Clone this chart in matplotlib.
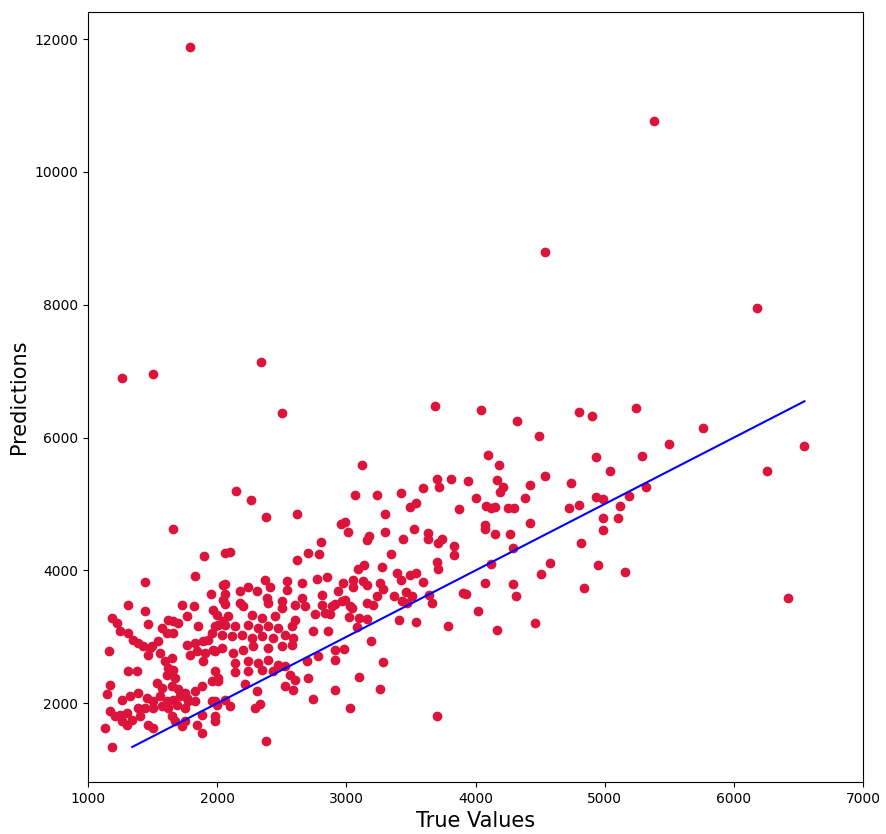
import matplotlib
matplotlib.use("Agg")
import matplotlib.pyplot as plt
import numpy as np

# (true value, prediction) pairs
sparse_pts = [(1790, 11880), (5382, 10760), (4538, 8792), (6179, 7949), (1266, 6890), (1506, 6950),
              (2342, 7131), (2502, 6363), (3689, 6468), (3124, 5584), (3704, 5376), (3810, 5376)]

right_pts = [(4804, 6382), (4904, 6322), (5245, 6443), (5764, 6142), (5500, 5900), (6546, 5870),
             (4935, 5715), (5291, 5730), (5044, 5494), (6259, 5494), (4742, 5313), (5322, 5253),
             (5191, 5128), (4933, 5102), (4984, 5077), (4726, 4937), (4804, 4982), (5121, 4967),
             (4990, 4786), (5106, 4786), (4990, 4616), (4817, 4410), (4951, 4078), (5160, 3973),
             (4840, 3742), (6422, 3592)]

upper_mid_pts = [(4045, 6408), (4321, 6257), (4494, 6021), (4097, 5735), (4182, 5580), (3944, 5343),
                 (4169, 5358), (4216, 5253), (4190, 5178), (4541, 5429), (4425, 5283), (4006, 5098),
                 (4383, 5098), (4081, 4967), (4120, 4937), (4148, 4952), (4249, 4937), (4300, 4937),
                 (3875, 4922), (4074, 4681), (4074, 4620), (4425, 4711), (4153, 4545), (4270, 4545),
                 (4293, 4339)]

lower_mid_pts = [(3830, 4364), (3830, 4229), (4122, 4104), (4578, 4109), (4509, 3943), (4076, 3817),
                 (4293, 3792), (4316, 3611), (3928, 3651), (4019, 3396), (4463, 3205), (4169, 3110)]

center_low_pts = [(2912, 3491), (2964, 3536), (3041, 3435), (3158, 3510), (3209, 3486), (3428, 3536),
                  (3467, 3510), (3661, 3510), (3021, 3295), (3098, 3285), (3158, 3275), (3085, 3145),
                  (3410, 3250), (3542, 3230), (3790, 3160), (2912, 2809), (2984, 2824), (3193, 2943),
                  (2912, 2658), (3286, 2617), (3098, 2392), (3263, 2221), (2912, 2206), (3028, 1935),
                  (3704, 1814)]

center_high_pts = [(3070, 5132), (3237, 5132), (3426, 5163), (3596, 5238), (3720, 5253), (3495, 4962),
                   (3539, 5022), (3299, 4846), (2959, 4706), (2990, 4726), (3015, 4585), (3299, 4575),
                   (3175, 4525), (3157, 4455), (3524, 4630), (3441, 4470), (3634, 4565), (3634, 4480),
                   (3743, 4474), (3712, 4414), (3343, 4254), (3137, 4078), (3093, 4028), (3273, 4058),
                   (3699, 4124), (3712, 4028), (3389, 3962), (3423, 3857), (3495, 3937), (3539, 3958),
                   (3596, 3827), (2977, 3812), (2938, 3687), (3054, 3862), (3054, 3747), (3131, 3837),
                   (3157, 3777), (3261, 3812), (3286, 3727), (3235, 3622), (3371, 3611), (3459, 3672),
                   (3510, 3611), (3640, 3637), (3906, 3661), (2990, 3561), (3028, 3461)]

leftmid_high_pts = [(2143, 5193), (2262, 5057), (2378, 4812), (2618, 4857), (2061, 4263), (2102, 4274),
                    (2804, 4425), (2706, 4259), (2791, 4244), (2618, 4154), (2370, 3857), (2537, 3842),
                    (2537, 3702), (2659, 3812), (2775, 3878), (2847, 3902), (2061, 3797), (2061, 3646),
                    (2177, 3697), (2241, 3747), (2306, 3697), (2409, 3747), (2177, 3515), (2383, 3586),
                    (2499, 3546), (2654, 3586), (2809, 3627)]

leftmid_low_pts = [(2061, 3495), (2202, 3461), (2396, 3510), (2499, 3435), (2603, 3486), (2680, 3461),
                   (2809, 3486), (2886, 3461), (1996, 3335), (2086, 3310), (2267, 3335), (2344, 3285),
                   (2448, 3310), (2757, 3345), (2835, 3360), (2873, 3345), (2603, 3260), (1983, 3160),
                   (2061, 3185), (2138, 3160), (2241, 3185), (2319, 3134), (2396, 3160), (2473, 3134),
                   (2577, 3160), (2744, 3084), (2855, 3094), (2035, 3034), (2112, 3009), (2190, 3034),
                   (2267, 2983), (2344, 3009), (2435, 2983), (2525, 3034), (2590, 2983), (1983, 2783),
                   (2125, 2758), (2202, 2809), (2280, 2858), (2396, 2833), (2499, 2858), (2577, 2884),
                   (2693, 2633), (2783, 2708), (2138, 2607), (2241, 2633), (2319, 2607), (2396, 2658),
                   (2473, 2582), (2525, 2557), (2564, 2432), (1983, 2482), (2138, 2472), (2241, 2482),
                   (2344, 2507), (2435, 2482), (2009, 2331), (2215, 2291), (2306, 2191), (2525, 2256),
                   (2603, 2357), (2706, 2381), (2590, 2206), (2744, 2065), (1983, 2030), (2061, 2055),
                   (2099, 1955), (2293, 1930), (2332, 1990), (1983, 1729), (2378, 1438)]

left_low_pts = [(1312, 3486), (1441, 3385), (1467, 3194), (1730, 3476), (1823, 3461), (1183, 3285),
                (1222, 3209), (1248, 3084), (1312, 3059), (1351, 2959), (1389, 2908), (1428, 2858),
                (1480, 2833), (1622, 3260), (1660, 3235), (1699, 3209), (1570, 3134), (1609, 3059),
                (1660, 3059), (1763, 3310), (1854, 3160), (1544, 2934), (1493, 2858), (1557, 2758),
                (1467, 2733), (1763, 2884), (1828, 2908), (1893, 2934), (1931, 2959), (1957, 3059),
                (2009, 3185), (2048, 3235), (1790, 2733), (1841, 2783), (1906, 2758), (1970, 2809),
                (2035, 2833), (1893, 2633), (1596, 2633), (1648, 2683), (1622, 2532), (1660, 2507),
                (1609, 2432), (1673, 2381), (1163, 2794), (1312, 2492), (1377, 2482), (1531, 2306),
                (1570, 2231), (1648, 2256), (1699, 2221), (1170, 2281), (1145, 2140), (1261, 2055),
                (1325, 2105), (1389, 2155), (1454, 2080), (1506, 2030), (1557, 2105), (1609, 2030),
                (1660, 2055), (1712, 2105), (1763, 2080), (1828, 2181), (1880, 2256), (1957, 2331),
                (2009, 2381), (1751, 2155), (1777, 2030), (1828, 2030), (1686, 1980), (1751, 1930),
                (1170, 1880), (1209, 1804), (1248, 1829), (1300, 1854), (1261, 1729), (1300, 1679),
                (1338, 1754), (1389, 1930), (1441, 1930), (1506, 1930), (1570, 1955), (1622, 1930),
                (1403, 1804), (1467, 1679), (1506, 1628), (1132, 1628), (1648, 1804), (1673, 1729),
                (1751, 1729), (1725, 1654), (1841, 1679), (1880, 1553), (1880, 1829), (1983, 1804),
                (1183, 1342), (1957, 2030), (1996, 1980)]

left_high_pts = [(1660, 4630), (1900, 4214), (1441, 3822), (1828, 3923), (1952, 3651), (2048, 3777),
                 (2048, 3561), (1970, 3410)]

pts = np.array(sparse_pts + right_pts + upper_mid_pts + lower_mid_pts + center_low_pts +
               center_high_pts + leftmid_high_pts + leftmid_low_pts + left_low_pts + left_high_pts)
y_test = pts[:, 0]
y_pred = pts[:, 1]

fig = plt.figure(figsize=(8.87, 8.34), dpi=100)
ax = fig.add_axes([88 / 887, 52 / 834, 775 / 887, 770 / 834])
ax.scatter(y_test, y_pred, c='crimson')

p1 = min(y_pred.max(), y_test.max())
p2 = max(y_pred.min(), y_test.min())
ax.plot([p1, p2], [p1, p2], 'b-')
ax.set_xlim(1000, 7000)
ax.set_xlabel('True Values', fontsize=15)
ax.set_ylabel('Predictions', fontsize=15)
fig.savefig('out.png', dpi=100)
